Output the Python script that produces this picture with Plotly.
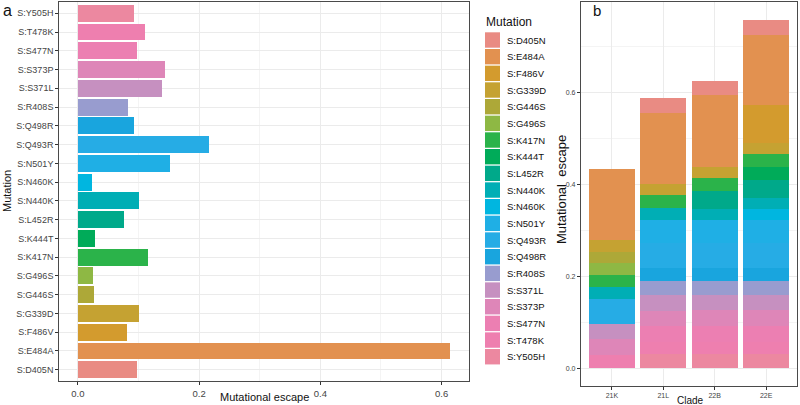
import plotly.graph_objects as go

# ---------------- data ----------------
mutations = ["S:D405N", "S:E484A", "S:F486V", "S:G339D", "S:G446S", "S:G496S",
             "S:K417N", "S:K444T", "S:L452R", "S:N440K", "S:N460K", "S:N501Y",
             "S:Q493R", "S:Q498R", "S:R408S", "S:S371L", "S:S373P", "S:S477N",
             "S:T478K", "S:Y505H"]

# panel a: total mutational escape per mutation
escape_total = [0.097, 0.614, 0.0815, 0.101, 0.027, 0.025,
                0.115, 0.028, 0.076, 0.100, 0.024, 0.152,
                0.217, 0.093, 0.082, 0.138, 0.143, 0.098,
                0.111, 0.093]

# panel b: escape per clade (21K, 21L, 22B, 22E); None = mutation absent
clades = ["21K", "21L", "22B", "22E"]
clade_escape = {
    "S:D405N": [None, 0.033, 0.032, 0.033],
    "S:E484A": [0.153, 0.154, 0.156, 0.152],
    "S:F486V": [None, None, None, 0.083],
    "S:G339D": [0.026, 0.025, 0.024, 0.024],
    "S:G446S": [0.025, None, None, None],
    "S:G496S": [0.025, None, None, None],
    "S:K417N": [0.028, 0.028, 0.029, 0.029],
    "S:K444T": [None, None, None, 0.028],
    "S:L452R": [None, None, 0.038, 0.038],
    "S:N440K": [0.025, 0.026, 0.025, 0.025],
    "S:N460K": [None, None, None, 0.024],
    "S:N501Y": [None, 0.050, 0.049, 0.049],
    "S:Q493R": [0.054, 0.054, 0.054, 0.054],
    "S:Q498R": [None, 0.030, 0.030, 0.030],
    "S:R408S": [None, 0.029, 0.029, 0.029],
    "S:S371L": [0.034, 0.035, 0.034, 0.034],
    "S:S373P": [0.035, 0.034, 0.035, 0.035],
    "S:S477N": [None, 0.033, 0.033, 0.033],
    "S:T478K": [0.028, 0.028, 0.028, 0.028],
    "S:Y505H": [None, 0.030, 0.030, 0.030],
}

colors = ["#E98B83", "#E29150", "#D39B2E", "#C5A232", "#ADA838", "#8EB844",
          "#2BB34A", "#00AB59", "#00A98A", "#00AEB5", "#00B6E0", "#1FAFE5",
          "#26ACE5", "#19A5DE", "#989CCF", "#C690C0", "#DE86B8", "#EC7FB2",
          "#EE7FAF", "#EC88A0"]

x_ticks_a = [0.0, 0.2, 0.4, 0.6]
y_ticks_b = [0.0, 0.2, 0.4, 0.6]

# ---------------- layout helpers ----------------
W, H = 800, 405
FONT = "Liberation Sans"


def px(x):
    return x / W


def py(y):
    return 1 - y / H


fig = go.Figure()

# panel a: horizontal bars
fig.add_trace(go.Bar(
    x=escape_total, y=mutations, orientation="h",
    marker=dict(color=colors, line=dict(width=0)),
    xaxis="x", yaxis="y", showlegend=False,
))

# panel b: stacked bars (first trace at bottom -> reverse order)
for m, c in reversed(list(zip(mutations, colors))):
    fig.add_trace(go.Bar(
        x=clades, y=clade_escape[m], name=m,
        marker=dict(color=c, line=dict(width=0)),
        xaxis="x2", yaxis="y2", showlegend=False,
    ))

grid_major = "#EBEBEB"
grid_minor = "#F4F4F4"
border = "#4A4A4A"
tickc = "#444444"

common = dict(
    automargin=False, zeroline=False,
    showline=True, mirror=True, linecolor=border, linewidth=1.2,
    ticks="outside", ticklen=3, tickcolor="#333333",
    showgrid=True, gridcolor=grid_major, gridwidth=1,
)

fig.update_layout(
    width=W, height=H,
    margin=dict(l=0, r=0, t=0, b=0, autoexpand=False),
    paper_bgcolor="white", plot_bgcolor="white",
    barmode="stack", bargap=0.1,
    font=dict(family=FONT, color="#333333"),
    xaxis=dict(
        domain=[px(59.3), px(468.7)], anchor="y",
        range=[-0.0307, 0.6447],
        tickvals=x_ticks_a, ticktext=["0.0", "0.2", "0.4", "0.6"],
        minor=dict(dtick=0.1, tick0=0, showgrid=True, gridcolor=grid_minor, gridwidth=0.6, ticks=""),
        tickfont=dict(size=9.5, color=tickc, family=FONT),
        **common,
    ),
    yaxis=dict(
        domain=[py(381), py(2)], anchor="x",
        categoryorder="array", categoryarray=mutations,
        range=[-0.6, 19.6],
        tickfont=dict(size=9, color=tickc, family=FONT),
        **common,
    ),
    xaxis2=dict(
        domain=[px(581), px(797)], anchor="y2",
        categoryorder="array", categoryarray=clades,
        range=[-0.6, 3.6],
        tickfont=dict(size=7, color=tickc, family=FONT),
        **common,
    ),
    yaxis2=dict(
        domain=[py(385.7), py(2)], anchor="x2",
        range=[-0.038, 0.797],
        tickvals=y_ticks_b, ticktext=["0.0", "0.2", "0.4", "0.6"],
        minor=dict(dtick=0.1, tick0=0, showgrid=True, gridcolor=grid_minor, gridwidth=0.6, ticks=""),
        tickfont=dict(size=7, color=tickc, family=FONT),
        **common,
    ),
)

annotations = [
    dict(text="a", x=px(1), y=py(10), xanchor="left", yanchor="middle",
         font=dict(size=16, color="#111111")),
    dict(text="b", x=px(591), y=py(11), xanchor="left", yanchor="middle",
         font=dict(size=15, color="#111111")),
    dict(text="Mutation", x=px(7), y=py(191), textangle=-90,
         xanchor="center", yanchor="middle", font=dict(size=11, color="#111111")),
    dict(text="Mutational escape", x=px(264), y=py(397),
         xanchor="center", yanchor="middle", font=dict(size=11, color="#111111")),
    dict(text="Mutational  escape", x=px(561), y=py(190), textangle=-90,
         xanchor="center", yanchor="middle", font=dict(size=13, color="#111111")),
    dict(text="Clade", x=px(690), y=py(400),
         xanchor="center", yanchor="middle", font=dict(size=10, color="#111111")),
    dict(text="Mutation", x=px(484), y=py(22), xanchor="left", yanchor="middle",
         font=dict(size=12, color="#111111")),
]

shapes = []
for i, (m, c) in enumerate(zip(mutations, colors)):
    yc = 40 + i * 16.67
    shapes.append(dict(type="rect", xref="paper", yref="paper",
                       x0=px(485), x1=px(500), y0=py(yc + 7.7), y1=py(yc - 7.7),
                       fillcolor=c, line=dict(width=0)))
    annotations.append(dict(text=m, x=px(505), y=py(yc), xanchor="left", yanchor="middle",
                            font=dict(size=9.5, color="#111111")))

for a in annotations:
    a.update(xref="paper", yref="paper", showarrow=False)
    a["font"]["family"] = FONT

fig.update_layout(annotations=annotations, shapes=shapes)

fig.write_html(
    "out.html",
    config={"displayModeBar": False},
    post_script="document.body.style.margin='0';document.body.style.padding='0';"
                "document.body.style.overflow='hidden';",
)
